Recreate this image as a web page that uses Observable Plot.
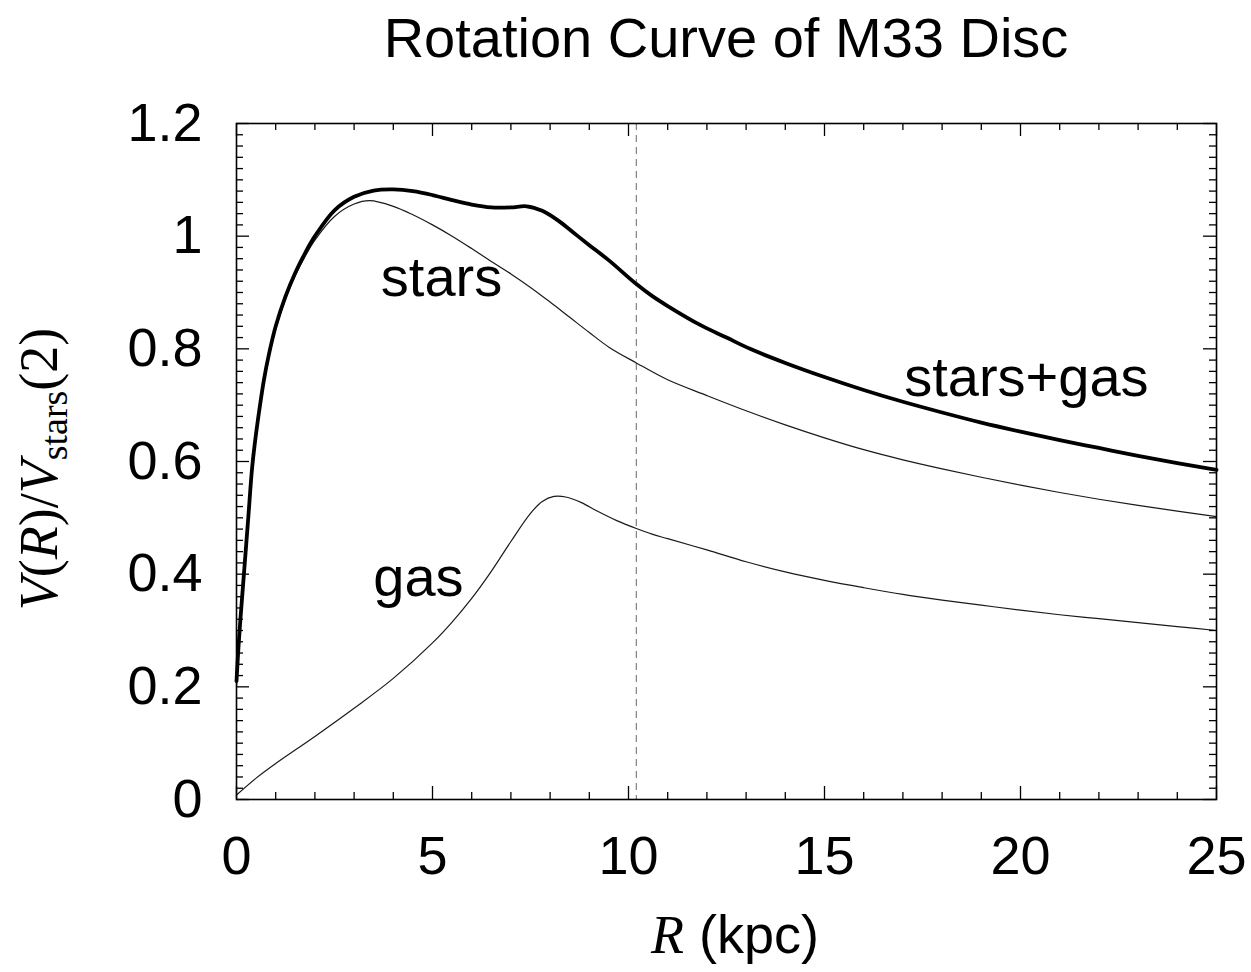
<!DOCTYPE html>
<html>
<head>
<meta charset="utf-8">
<script src="https://cdn.jsdelivr.net/npm/d3@7"></script>
<script src="https://cdn.jsdelivr.net/npm/@observablehq/plot@0.6"></script>
<style>
  html, body { margin: 0; padding: 0; background: #fff; }
  #title { box-sizing: border-box; height: 90px; margin-left: 236px; width: 980px; text-align: center;
           font: 56px "Liberation Sans", Arial, sans-serif; line-height: 1; padding-top: 10px; color: #000; }
  #chart svg { display: block; }
</style>
</head>
<body>
<div id="title">Rotation Curve of M33 Disc</div>
<div id="chart"></div>
<script>
// ---- data ----
const starsGasR = [0, 0.05, 0.1, 0.2, 0.3, 0.4, 0.5, 0.6, 0.7, 0.82, 1.0, 1.25, 1.5, 1.75, 2.0, 2.5, 3.0, 3.5, 4.0, 4.5, 5.0, 5.5, 6.0, 6.5, 7.0, 7.4, 7.8, 8.2, 8.6, 9.0, 9.5, 10.2, 10.6, 11.0, 11.84, 12.5, 13.1, 14, 15, 16, 17, 18, 19, 20, 21, 22, 23, 24, 25];
const starsGasV = [0.21, 0.27, 0.32, 0.41, 0.50, 0.59, 0.65, 0.70, 0.745, 0.788, 0.84, 0.893, 0.935, 0.97, 1.0, 1.046, 1.07, 1.081, 1.083, 1.080, 1.073, 1.064, 1.056, 1.051, 1.051, 1.053, 1.045, 1.028, 1.006, 0.984, 0.957, 0.915, 0.894, 0.876, 0.842, 0.820, 0.800, 0.775, 0.750, 0.727, 0.706, 0.687, 0.669, 0.653, 0.638, 0.624, 0.610, 0.597, 0.585];

const starsR = [0, 0.05, 0.1, 0.2, 0.3, 0.4, 0.5, 0.6, 0.7, 0.82, 1.0, 1.25, 1.5, 1.75, 2.0, 2.5, 3.0, 3.4, 4.0, 4.5, 5.0, 5.5, 6.0, 6.5, 7.0, 7.5, 8.0, 8.5, 9.0, 9.5, 10.2, 11, 12, 13, 14, 15, 16, 17, 18, 19, 20, 21, 22, 23, 24, 25];
const starsV = [0.20, 0.265, 0.315, 0.405, 0.495, 0.585, 0.645, 0.695, 0.74, 0.783, 0.835, 0.888, 0.93, 0.964, 0.993, 1.035, 1.057, 1.063, 1.053, 1.038, 1.020, 1.0, 0.978, 0.955, 0.933, 0.909, 0.883, 0.856, 0.829, 0.803, 0.775, 0.745, 0.717, 0.69, 0.665, 0.642, 0.621, 0.603, 0.587, 0.572, 0.558, 0.545, 0.533, 0.522, 0.512, 0.502];

const gasR = [0, 0.5, 1, 2, 3, 4, 5, 5.5, 6, 6.5, 7, 7.5, 7.8, 8.1, 8.4, 8.8, 9.2, 9.7, 10.2, 10.6, 11, 12, 13, 14, 15, 16, 17, 18, 19, 20, 21, 22, 23, 24, 25];
const gasV = [0.008, 0.038, 0.064, 0.112, 0.162, 0.215, 0.278, 0.315, 0.357, 0.405, 0.458, 0.508, 0.529, 0.538, 0.537, 0.527, 0.512, 0.495, 0.481, 0.471, 0.463, 0.443, 0.422, 0.404, 0.389, 0.376, 0.364, 0.354, 0.345, 0.336, 0.328, 0.321, 0.314, 0.307, 0.30];

const edgeRadius = [10.2];

const xTicks = [0, 5, 10, 15, 20, 25];
const xMinorTicks = [1,2,3,4,6,7,8,9,11,12,13,14,16,17,18,19,21,22,23,24];
const yTicks = [0, 0.2, 0.4, 0.6, 0.8, 1, 1.2];
const yTickLabels = ["0", "0.2", "0.4", "0.6", "0.8", "1", "1.2"];
const yMinorTicks = d3.range(1, 60).filter(i => i % 10 !== 0).map(i => +(i * 0.02).toFixed(2));

const curveLabels = [
  {text: "stars", r: 5.23, v: 0.925},
  {text: "gas", r: 4.64, v: 0.393},
  {text: "stars+gas", r: 20.15, v: 0.748}
];

const toRows = (rs, vs) => rs.map((r, i) => ({r, v: vs[i]}));
const starsGas = toRows(starsGasR, starsGasV);
const stars = toRows(starsR, starsV);
const gas = toRows(gasR, gasV);

// ---- layout ----
const W = 1251, H = 882;
const mT = 33, mB = 173, mL = 236, mR = 35;
const plotW = W - mL - mR, plotH = H - mT - mB;
const major = 13, minor = 7;
const sans = '"Liberation Sans", Arial, Helvetica, sans-serif';
const serif = '"Liberation Serif", "Times New Roman", serif';

const chart = Plot.plot({
  width: W, height: H,
  marginTop: mT, marginBottom: mB, marginLeft: mL, marginRight: mR,
  style: {fontFamily: sans, fontSize: "54px", color: "#000", background: "#fff"},
  x: {domain: [0, 25], label: null},
  y: {domain: [0, 1.2], label: null},
  marks: [
    Plot.ruleX(edgeRadius, {stroke: "#808080", strokeWidth: 1.2, strokeDasharray: "7,5"}),
    Plot.line(gas, {x: "r", y: "v", stroke: "#1a1a1a", strokeWidth: 1.2, curve: "catmull-rom"}),
    Plot.line(stars, {x: "r", y: "v", stroke: "#1a1a1a", strokeWidth: 1.2, curve: "catmull-rom"}),
    Plot.line(starsGas, {x: "r", y: "v", stroke: "#000", strokeWidth: 3.8, curve: "catmull-rom"}),
    // inward ticks, all four sides
    Plot.tickX(xTicks, {x: d => d, insetTop: plotH - major, stroke: "#000", strokeWidth: 1.3}),
    Plot.tickX(xTicks, {x: d => d, insetBottom: plotH - major, stroke: "#000", strokeWidth: 1.3}),
    Plot.tickX(xMinorTicks, {x: d => d, insetTop: plotH - minor, stroke: "#000", strokeWidth: 1.3}),
    Plot.tickX(xMinorTicks, {x: d => d, insetBottom: plotH - minor, stroke: "#000", strokeWidth: 1.3}),
    Plot.tickY(yTicks, {y: d => d, insetRight: plotW - major, stroke: "#000", strokeWidth: 1.3}),
    Plot.tickY(yTicks, {y: d => d, insetLeft: plotW - major, stroke: "#000", strokeWidth: 1.3}),
    Plot.tickY(yMinorTicks, {y: d => d, insetRight: plotW - minor, stroke: "#000", strokeWidth: 1.3}),
    Plot.tickY(yMinorTicks, {y: d => d, insetLeft: plotW - minor, stroke: "#000", strokeWidth: 1.3}),
    Plot.frame({stroke: "#000", strokeWidth: 1.6}),
    Plot.axisX({ticks: xTicks, tickSize: 0, tickPadding: 36, tickFormat: d => String(d), fontSize: 54, label: null}),
    Plot.axisY({ticks: yTicks, tickSize: 0, tickPadding: 34, tickFormat: d => yTickLabels[yTicks.indexOf(d)], fontSize: 54, label: null}),
    Plot.text(curveLabels, {x: "r", y: "v", text: "text", fontSize: 56, textAnchor: "middle", lineAnchor: "middle", fill: "#000"})
  ]
});

document.getElementById("chart").appendChild(chart);

// ---- axis titles with mixed italic / subscript text ----
const svg = d3.select(chart);
const xl = svg.append("text")
  .attr("x", mL + plotW / 2 + 9).attr("y", 863)
  .attr("text-anchor", "middle").attr("font-size", 54).attr("fill", "#000");
xl.append("tspan").attr("font-family", serif).attr("font-style", "italic").text("R");
xl.append("tspan").attr("font-family", sans).text(" (kpc)");

const yl = svg.append("text")
  .attr("transform", `translate(57,${mT + plotH / 2 + 8}) rotate(-90)`)
  .attr("text-anchor", "middle").attr("font-size", 54).attr("font-family", serif).attr("fill", "#000");
yl.append("tspan").attr("font-style", "italic").text("V");
yl.append("tspan").text("(");
yl.append("tspan").attr("font-style", "italic").text("R");
yl.append("tspan").text(")/");
yl.append("tspan").attr("font-style", "italic").text("V");
yl.append("tspan").attr("font-size", 38).attr("dy", 10).text("stars");
yl.append("tspan").attr("dy", -10).text("(2)");
</script>
</body>
</html>
